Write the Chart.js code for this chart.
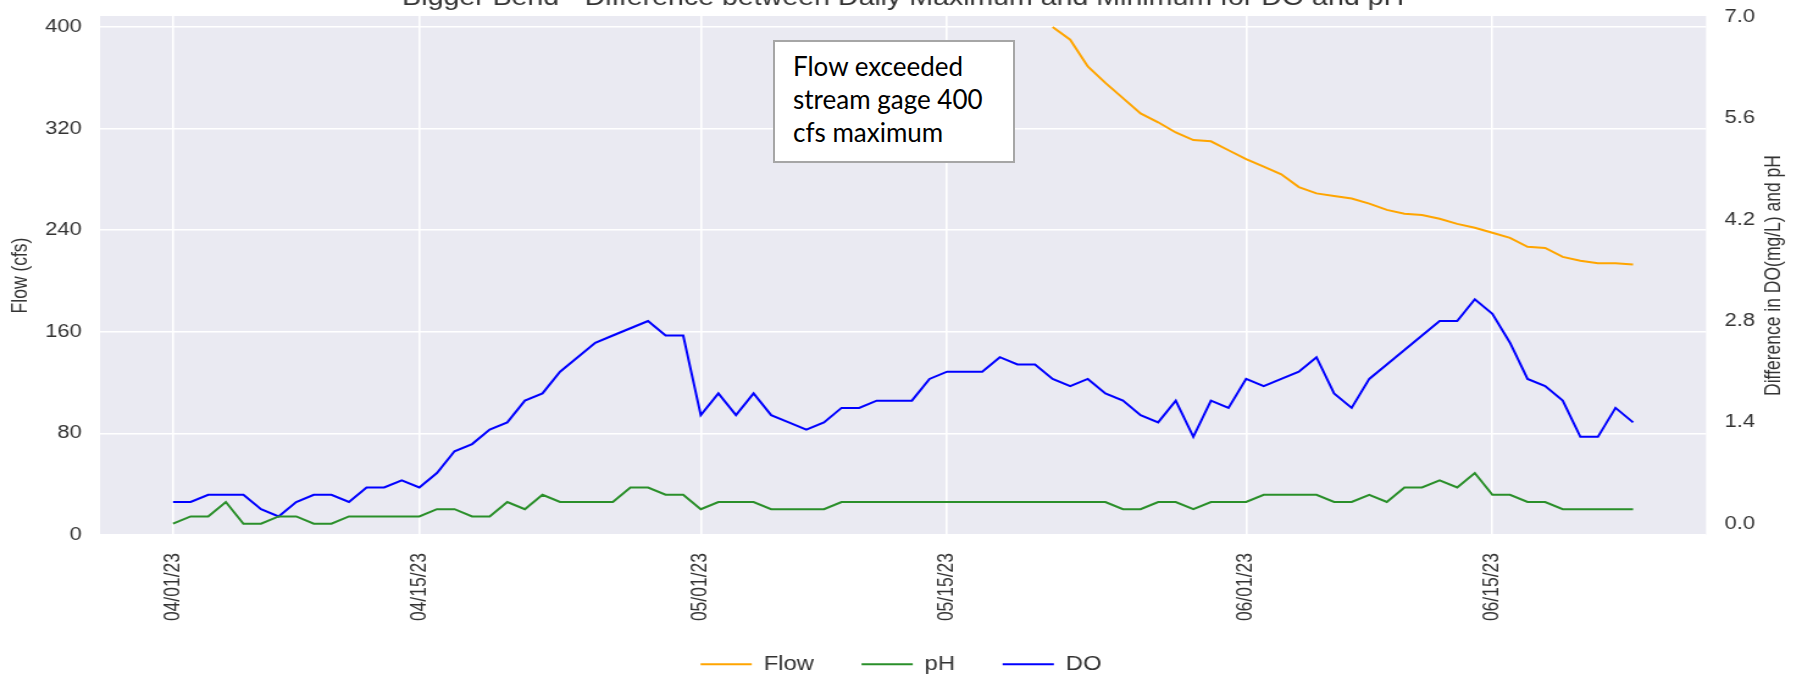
<!DOCTYPE html>
<html>
<head>
<meta charset="utf-8">
<script src="https://cdn.jsdelivr.net/npm/chart.js@4/dist/chart.umd.min.js"></script>
<style>
  html, body { margin: 0; padding: 0; background: #ffffff; }
  #wrap { position: relative; width: 1802px; height: 677px; overflow: hidden; background: #ffffff; }
  #c { position: absolute; left: 0; top: 0; transform-origin: 0 0; }
  #note {
    position: absolute; left: 773px; top: 40px; width: 242px; height: 123px;
    box-sizing: border-box; border: 2px solid #a6a6a6; background: #ffffff;
    font-family: Lato, "Open Sans", sans-serif; font-size: 26px; line-height: 33px;
    color: #000000; padding: 8px 0 0 18px; white-space: nowrap;
  }
</style>
</head>
<body>
<div id="wrap">
  <canvas id="c" width="1477" height="677"></canvas>
  <div id="note">Flow exceeded<br>stream gage 400<br>cfs maximum</div>
</div>
<script>
// ---------------- data ----------------
const dates = [
  '04/01/23','04/02/23','04/03/23','04/04/23','04/05/23','04/06/23','04/07/23','04/08/23','04/09/23','04/10/23',
  '04/11/23','04/12/23','04/13/23','04/14/23','04/15/23','04/16/23','04/17/23','04/18/23','04/19/23','04/20/23',
  '04/21/23','04/22/23','04/23/23','04/24/23','04/25/23','04/26/23','04/27/23','04/28/23','04/29/23','04/30/23',
  '05/01/23','05/02/23','05/03/23','05/04/23','05/05/23','05/06/23','05/07/23','05/08/23','05/09/23','05/10/23',
  '05/11/23','05/12/23','05/13/23','05/14/23','05/15/23','05/16/23','05/17/23','05/18/23','05/19/23','05/20/23',
  '05/21/23','05/22/23','05/23/23','05/24/23','05/25/23','05/26/23','05/27/23','05/28/23','05/29/23','05/30/23',
  '05/31/23','06/01/23','06/02/23','06/03/23','06/04/23','06/05/23','06/06/23','06/07/23','06/08/23','06/09/23',
  '06/10/23','06/11/23','06/12/23','06/13/23','06/14/23','06/15/23','06/16/23','06/17/23','06/18/23','06/19/23',
  '06/20/23','06/21/23','06/22/23','06/23/23'
];

// Flow (cfs) - above the 400 cfs gage maximum before 05/21 (not recorded)
const flow = [
  null,null,null,null,null,null,null,null,null,null,
  null,null,null,null,null,null,null,null,null,null,
  null,null,null,null,null,null,null,null,null,null,
  null,null,null,null,null,null,null,null,null,null,
  null,null,null,null,null,null,null,null,null,null,
  400,390,369,356,344,332,325,317,311,310,
  303,296,290,284,274,269,267,265,261,256,
  253,252,249,245,242,238,234,227,226,219,
  216,214,214,213
];

// Daily max - min of pH
const ph = [
  0.0,0.1,0.1,0.3,0.0,0.0,0.1,0.1,0.0,0.0,
  0.1,0.1,0.1,0.1,0.1,0.2,0.2,0.1,0.1,0.3,
  0.2,0.4,0.3,0.3,0.3,0.3,0.5,0.5,0.4,0.4,
  0.2,0.3,0.3,0.3,0.2,0.2,0.2,0.2,0.3,0.3,
  0.3,0.3,0.3,0.3,0.3,0.3,0.3,0.3,0.3,0.3,
  0.3,0.3,0.3,0.3,0.2,0.2,0.3,0.3,0.2,0.3,
  0.3,0.3,0.4,0.4,0.4,0.4,0.3,0.3,0.4,0.3,
  0.5,0.5,0.6,0.5,0.7,0.4,0.4,0.3,0.3,0.2,
  0.2,0.2,0.2,0.2
];

// Daily max - min of DO (mg/L)
const dissolvedOxygen = [
  0.3,0.3,0.4,0.4,0.4,0.2,0.1,0.3,0.4,0.4,
  0.3,0.5,0.5,0.6,0.5,0.7,1.0,1.1,1.3,1.4,
  1.7,1.8,2.1,2.3,2.5,2.6,2.7,2.8,2.6,2.6,
  1.5,1.8,1.5,1.8,1.5,1.4,1.3,1.4,1.6,1.6,
  1.7,1.7,1.7,2.0,2.1,2.1,2.1,2.3,2.2,2.2,
  2.0,1.9,2.0,1.8,1.7,1.5,1.4,1.7,1.2,1.7,
  1.6,2.0,1.9,2.0,2.1,2.3,1.8,1.6,2.0,2.2,
  2.4,2.6,2.8,2.8,3.1,2.9,2.5,2.0,1.9,1.7,
  1.2,1.2,1.6,1.4
];

const xTickLabels = ['04/01/23','04/15/23','05/01/23','05/15/23','06/01/23','06/15/23'];
const flowTicks = [0, 80, 160, 240, 320, 400];
const diffTicks = [0.0, 1.4, 2.8, 4.2, 5.6, 7.0];
const seriesNames = ['Flow', 'pH', 'DO'];
const titleText = 'Bigger Bend - Difference between Daily Maximum and Minimum for DO and pH';
const flowAxisTitle = 'Flow (cfs)';
const diffAxisTitle = 'Difference in DO(mg/L) and pH';

// ---------------- rendering ----------------
const W = 1477, H = 677;
const STRETCH = 1802 / W;
const canvas = document.getElementById('c');
canvas.style.width = W + 'px';
canvas.style.height = H + 'px';
canvas.style.transform = 'scaleX(' + STRETCH + ')';

const FONT = "'Liberation Sans', Arial, Helvetica, sans-serif";
const TXT = '#333333';
const CLEAR = 'rgba(0,0,0,0)';
const xTickIdx = xTickLabels.map(l => dates.indexOf(l));
const toPts = arr => arr.map((v, i) => ({ x: i, y: v }));
const pad = (dates.length - 1) * 0.05;
const LEGEND_SHIFT = -11.5;

const bgPlugin = {
  id: 'bgPlugin',
  afterLayout(chart) {
    if (chart.legend) { chart.legend.top += LEGEND_SHIFT; chart.legend.bottom += LEGEND_SHIFT; }
  },
  beforeDraw(chart) {
    const { ctx, chartArea: a } = chart;
    ctx.save();
    ctx.fillStyle = '#EAEAF2';
    ctx.fillRect(a.left, a.top, a.right - a.left, a.bottom - a.top);
    ctx.restore();
  },
  afterDraw(chart) {
    const { ctx, chartArea: a } = chart;
    ctx.save();
    ctx.fillStyle = TXT;
    ctx.font = '23.4px ' + FONT;
    ctx.textAlign = 'center';
    ctx.textBaseline = 'alphabetic';
    ctx.fillText(titleText, (a.left + a.right) / 2, 5);
    ctx.translate(1454, (a.top + a.bottom) / 2);
    ctx.rotate(-Math.PI / 2);
    ctx.font = '17.5px ' + FONT;
    ctx.textBaseline = 'middle';
    ctx.fillText(diffAxisTitle, 0, 0);
    ctx.restore();
  }
};

new Chart(canvas.getContext('2d'), {
  type: 'line',
  data: {
    datasets: [
      { label: seriesNames[0], data: toPts(flow), yAxisID: 'yFlow', borderColor: '#FFA500', backgroundColor: '#FFA500',
        borderWidth: 2, pointRadius: 0, tension: 0, spanGaps: false, fill: false },
      { label: seriesNames[1], data: toPts(ph), yAxisID: 'yDiff', borderColor: '#2a8f2a', backgroundColor: '#2a8f2a',
        borderWidth: 2, pointRadius: 0, tension: 0, fill: false },
      { label: seriesNames[2], data: toPts(dissolvedOxygen), yAxisID: 'yDiff', borderColor: '#0000FF', backgroundColor: '#0000FF',
        borderWidth: 2, pointRadius: 0, tension: 0, fill: false }
    ]
  },
  options: {
    responsive: false,
    animation: false,
    devicePixelRatio: 1,
    layout: { padding: { top: 16, left: 0, right: 0, bottom: -18.5 } },
    plugins: {
      legend: {
        position: 'bottom',
        labels: {
          usePointStyle: true, pointStyle: 'line', pointStyleWidth: 42,
          padding: 39, color: TXT, font: { family: FONT, size: 19.5 }
        }
      },
      tooltip: { enabled: false },
      title: { display: false }
    },
    scales: {
      x: {
        type: 'linear',
        min: -pad, max: dates.length - 1 + pad,
        afterBuildTicks: ax => { ax.ticks = xTickIdx.map(v => ({ value: v })); },
        afterFit: s => { s.height = 92; },
        ticks: {
          autoSkip: false, minRotation: 90, maxRotation: 90, padding: 18,
          color: TXT, font: { family: FONT, size: 17.5 },
          callback: v => xTickLabels[xTickIdx.indexOf(v)]
        },
        grid: { color: '#ffffff', lineWidth: 1.6, drawTicks: false },
        border: { display: false }
      },
      yFlow: {
        type: 'linear', position: 'left',
        min: 0, max: 408.7,
        afterBuildTicks: ax => { ax.ticks = flowTicks.map(v => ({ value: v })); },
        afterFit: s => { s.width = 82; },
        ticks: { padding: 0, color: TXT, font: { family: FONT, size: 18 }, callback: v => String(v) },
        grid: { color: '#ffffff', lineWidth: 1.6, drawTicks: true, tickLength: 15, tickColor: CLEAR },
        border: { display: false },
        title: { display: true, text: flowAxisTitle, color: TXT, font: { family: FONT, size: 17.5 },
                 padding: { top: 6.7, bottom: 0 } }
      },
      yDiff: {
        type: 'linear', position: 'right',
        min: -0.1561, max: 7.0138,
        afterBuildTicks: ax => { ax.ticks = diffTicks.map(v => ({ value: v })); },
        afterFit: s => { s.width = 78.6; },
        ticks: { padding: 0, color: TXT, font: { family: FONT, size: 18 }, callback: v => Number(v).toFixed(1) },
        grid: { display: true, drawOnChartArea: false, drawTicks: true, tickLength: 15, tickColor: CLEAR },
        border: { display: false }
      }
    }
  },
  plugins: [bgPlugin]
});
</script>
</body>
</html>
